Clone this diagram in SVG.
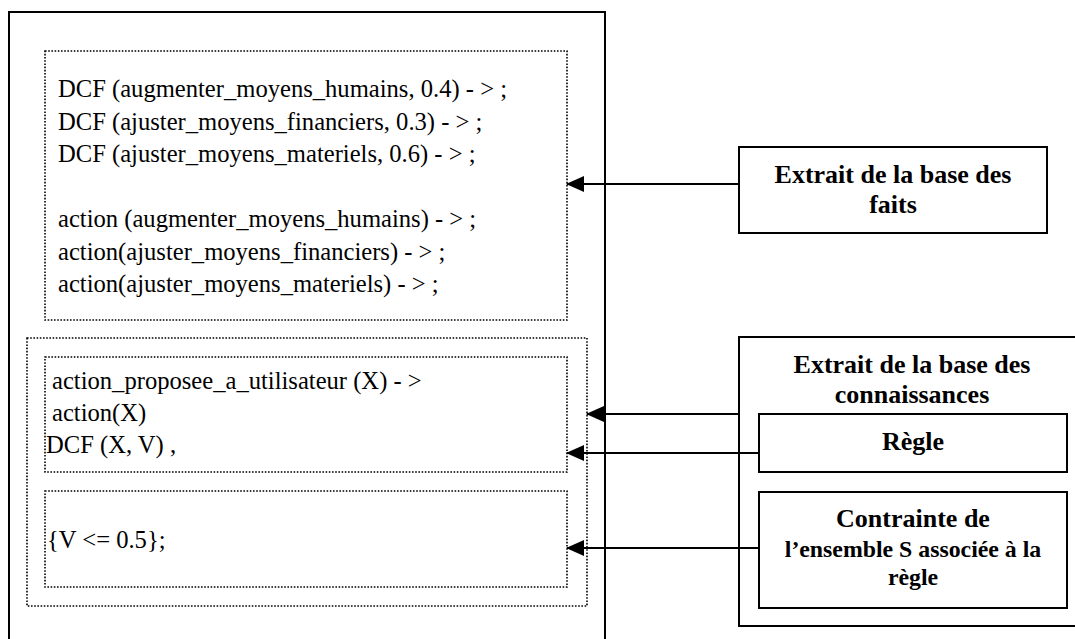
<svg xmlns="http://www.w3.org/2000/svg" width="1075" height="639" viewBox="0 0 1075 639">
<style>
.solid{fill:none;stroke:#000;stroke-width:2}
.dot{fill:none;stroke:#000;stroke-width:1.6;stroke-dasharray:1.6 1.6}
.t{font-family:"Liberation Serif","Times New Roman",serif;font-size:24.6px;fill:#000}
.b{font-family:"Liberation Serif","Times New Roman",serif;font-size:26px;font-weight:bold;fill:#000;text-anchor:middle}
.bs{font-size:23.8px}
.conn{stroke:#000;stroke-width:2.2;fill:none}
</style>
<defs>
<marker id="arr" viewBox="0 0 18 16" refX="17" refY="8" markerWidth="18" markerHeight="16" markerUnits="userSpaceOnUse" orient="auto">
<path d="M0,0 L18,8 L0,16 Z" fill="#000"/>
</marker>
</defs>
<g id="outer-frame"><path class="solid" d="M9,645 L9,12 L605,12 L605,645"/></g>
<g id="faits-extract">
<rect class="dot" x="45" y="51" width="522" height="269"/>
<text class="t" x="58" y="97">DCF (augmenter_moyens_humains, 0.4) - &gt; ;</text>
<text class="t" x="58" y="129.5">DCF (ajuster_moyens_financiers, 0.3) - &gt; ;</text>
<text class="t" x="58" y="162">DCF (ajuster_moyens_materiels, 0.6) - &gt; ;</text>
<text class="t" x="58" y="227">action (augmenter_moyens_humains) - &gt; ;</text>
<text class="t" x="58" y="259.5">action(ajuster_moyens_financiers) - &gt; ;</text>
<text class="t" x="58" y="292">action(ajuster_moyens_materiels) - &gt; ;</text>
</g>
<g id="connaissances-extract"><rect class="dot" x="27" y="338" width="560" height="268"/></g>
<g id="regle-extract">
<rect class="dot" x="45" y="357" width="522" height="115"/>
<text class="t" x="52" y="389">action_proposee_a_utilisateur (X) - &gt;</text>
<text class="t" x="52" y="421">action(X)</text>
<text class="t" x="46" y="453">DCF (X, V) ,</text>
</g>
<g id="contrainte-extract">
<rect class="dot" x="45" y="491" width="522" height="96"/>
<text class="t" x="47" y="548">{V &lt;= 0.5};</text>
</g>
<g id="base-faits">
<rect class="solid" x="739" y="147" width="308" height="86"/>
<text class="b" x="893" y="183">Extrait de la base des</text>
<text class="b" x="893" y="213">faits</text>
</g>
<g id="base-connaissances">
<rect class="solid" x="739" y="337" width="345" height="289"/>
<text class="b" x="912" y="373">Extrait de la base des</text>
<text class="b" x="912" y="403">connaissances</text>
</g>
<g id="regle">
<rect class="solid" x="759" y="414" width="308" height="58"/>
<text class="b" x="913" y="450">Règle</text>
</g>
<g id="contrainte">
<rect class="solid" x="759" y="492" width="308" height="116"/>
<text class="b" x="913" y="527">Contrainte de</text>
<text class="b bs" x="913" y="557">l’ensemble S associée à la</text>
<text class="b bs" x="913" y="585">règle</text>
</g>
<g id="connectors">
<line class="conn" x1="739" y1="184" x2="567" y2="184" marker-end="url(#arr)"/>
<line class="conn" x1="739" y1="414" x2="587" y2="414" marker-end="url(#arr)"/>
<line class="conn" x1="759" y1="453" x2="567" y2="453" marker-end="url(#arr)"/>
<line class="conn" x1="759" y1="548" x2="567" y2="548" marker-end="url(#arr)"/>
</g>
</svg>
